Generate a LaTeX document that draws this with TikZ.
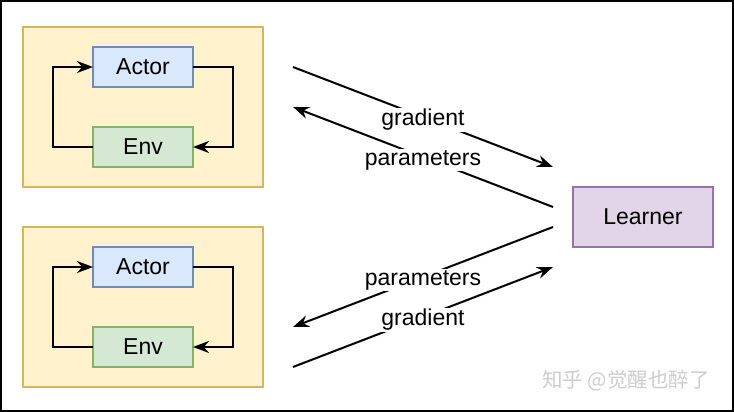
\documentclass[tikz,border=0pt]{standalone}
\usepackage{fontspec}
\setmainfont{Liberation Sans}
\newfontfamily\cjk{Noto Sans CJK SC}
\usetikzlibrary{positioning,arrows.meta}
\definecolor{grpfill}{HTML}{FFF2CC}
\definecolor{grpline}{HTML}{D6B656}
\definecolor{actfill}{HTML}{DAE8FC}
\definecolor{actline}{HTML}{6C8EBF}
\definecolor{envfill}{HTML}{D5E8D4}
\definecolor{envline}{HTML}{82B366}
\definecolor{lrnfill}{HTML}{E1D5E7}
\definecolor{lrnline}{HTML}{9673A6}
\begin{document}
\begin{tikzpicture}[x=1pt, y=-1pt, line width=2pt, >={Stealth[length=16pt,width=12pt]},
    font=\fontsize{23}{27}\selectfont,
    grp/.style={draw=grpline, fill=grpfill, line width=1.6pt, minimum width=240pt, minimum height=160pt, outer sep=0pt},
    actorbox/.style={draw=actline, fill=actfill, line width=1.6pt, minimum width=100pt, minimum height=40pt, outer sep=0pt},
    envbox/.style={draw=envline, fill=envfill, line width=1.6pt, minimum width=100pt, minimum height=40pt, outer sep=0pt},
    learnerbox/.style={draw=lrnline, fill=lrnfill, line width=1.6pt, minimum width=140pt, minimum height=60pt, outer sep=0pt},
    lbl/.style={midway, fill=white, inner sep=1pt, yshift=-3pt}]
    \useasboundingbox (0,0) rectangle (734,412);
    \draw (1,1) rectangle (733,411);
    % upper actor group
    \node[grp] (grp1) at (143,107) {};
    \node[actorbox] (actor1) at (143,67) {Actor};
    \node[envbox, below=40pt of actor1] (env1) {Env};
    \draw[->] (actor1.east) -- ++(40,0) |- (env1.east);
    \draw[->] (env1.west) -- ++(-40,0) |- (actor1.west);
    % lower actor group
    \node[grp] (grp2) at (143,307) {};
    \node[actorbox] (actor2) at (143,267) {Actor};
    \node[envbox, below=40pt of actor2] (env2) {Env};
    \draw[->] (actor2.east) -- ++(40,0) |- (env2.east);
    \draw[->] (env2.west) -- ++(-40,0) |- (actor2.west);
    \node[learnerbox] (learner) at (643,217) {Learner};
    % free ends of the long arrows
    \coordinate (g1s) at (293,67);  \coordinate (g1e) at (553,167);
    \coordinate (p1s) at (553,207); \coordinate (p1e) at (293,107);
    \coordinate (p2s) at (553,227); \coordinate (p2e) at (293,327);
    \coordinate (g2s) at (293,367); \coordinate (g2e) at (553,267);
    \draw[->] (g1s) -- (g1e) node[lbl] {gradient};
    \draw[->] (p1s) -- (p1e) node[lbl] {parameters};
    \draw[->] (p2s) -- (p2e) node[lbl] {parameters};
    \draw[->] (g2s) -- (g2e) node[lbl] {gradient};
    \node[text=gray!40, font=\cjk\fontsize{20.5}{21}\selectfont] (mark) at (626,381) {知乎 @觉醒也醉了};
\end{tikzpicture}
\end{document}
